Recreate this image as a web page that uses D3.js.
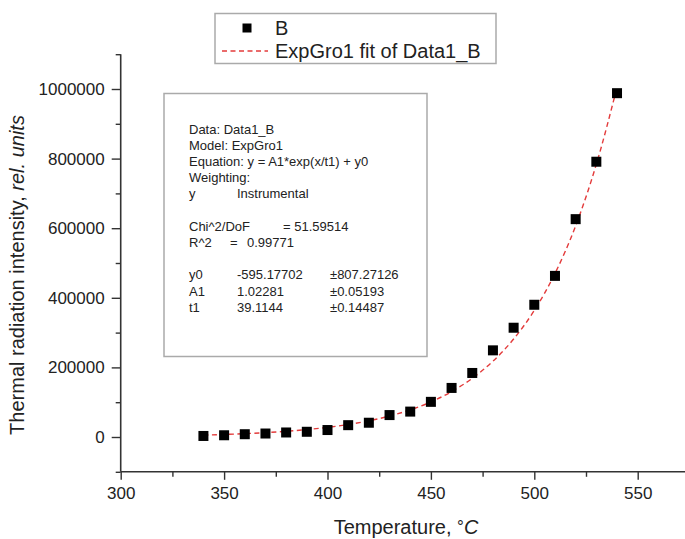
<!DOCTYPE html>
<html><head><meta charset="utf-8">
<script src="https://cdn.jsdelivr.net/npm/d3@7"></script>
<style>
body{margin:0;background:#fff;}
svg{display:block;font-family:"Liberation Sans",Arial,sans-serif;}
</style></head>
<body>
<svg id="c" width="685" height="539"></svg>
<script>
// ---- data ----
const temps = [340,350,360,370,380,390,400,410,420,430,440,450,460,470,480,490,500,510,520,530,540];
const intensity = [3000,5000,8000,10000,13000,15000,20000,34000,41000,63000,73000,101000,141000,184000,249000,314000,380000,463000,626000,791000,988000];
const fitValues = [5500,7300,9600,12500,16300,21300,27700,35900,46500,60200,78000,100800,130400,168600,217800,281500,363700,469800,606800,783700,1005000];
const xTicks = [300,350,400,450,500,550];
const xMinor = [325,375,425,475,525,575];
const yTicks = [0,200000,400000,600000,800000,1000000];
const yMinor = [-100000,100000,300000,500000,700000,900000,1100000];
const statsLines = ["Data: Data1_B","Model: ExpGro1","Equation: y = A1*exp(x/t1) + y0","Weighting:"];
const paramNames = ["y0","A1","t1"];
const paramValues = ["-595.17702","1.02281","39.1144"];
const paramErrors = ["\u00b1807.27126","\u00b10.05193","\u00b10.14487"];
const seriesName = "B";
const fitName = "ExpGro1 fit of Data1_B";

const svg = d3.select("#c");
const x = d3.scaleLinear().domain([300,575]).range([120.7,689.4]);
const y = d3.scaleLinear().domain([-100000,1100000]).range([471.8,54.2]);
const axisColor = "#333";

// axes
const gx = svg.append("g").attr("transform","translate(0,471.8)");
gx.call(d3.axisBottom(x).tickValues(xTicks).tickSize(8).tickPadding(7).tickFormat(d3.format("d")));
const gxm = svg.append("g").attr("transform","translate(0,471.8)");
gxm.call(d3.axisBottom(x).tickValues(xMinor).tickSize(5).tickFormat(""));
gxm.select(".domain").remove();
gx.select(".domain").attr("d","M120.7,0H685");

const gy = svg.append("g").attr("transform","translate(120.7,0)");
gy.call(d3.axisLeft(y).tickValues(yTicks).tickSize(9).tickPadding(7).tickFormat(d3.format("d")));
const gym = svg.append("g").attr("transform","translate(120.7,0)");
gym.call(d3.axisLeft(y).tickValues(yMinor).tickSize(5).tickFormat(""));
gym.select(".domain").remove();
gy.select(".domain").attr("d","M0,"+y(1100000)+"V"+y(-100000));

svg.selectAll(".domain").attr("stroke",axisColor).attr("stroke-width",1.6);
svg.selectAll(".tick line").attr("stroke",axisColor).attr("stroke-width",1.4);
svg.selectAll(".tick text").attr("fill","#222").style("font-size","17px").style("font-family","'Liberation Sans',Arial,sans-serif");

// axis titles
svg.append("text").attr("x",406).attr("y",534).attr("text-anchor","middle")
  .style("font-size","20px").attr("fill","#222")
  .call(t=>{t.append("tspan").text("Temperature, ");
            t.append("tspan").text("\u00b0").attr("dy",-2).style("font-size","17px");
            t.append("tspan").text("C").attr("dy",2).style("font-style","italic");});
svg.append("text").attr("transform","translate(24,275) rotate(-90)").attr("text-anchor","middle")
  .style("font-size","20px").attr("fill","#222")
  .call(t=>{t.append("tspan").text("Thermal radiation intensity, ");
            t.append("tspan").text("rel. units").style("font-style","italic");});

// stats box
svg.append("rect").attr("x",164).attr("y",93.5).attr("width",263).attr("height",263)
  .attr("fill","#fff").attr("stroke","#aaa").attr("stroke-width",1.5);
const sb = svg.append("g").attr("fill","#222").style("font-size","13px");
const line0 = 133.5, lh = 16.2;
statsLines.forEach((s,i)=>sb.append("text").attr("x",189).attr("y",line0+i*lh).text(s));
sb.append("text").attr("x",189).attr("y",line0+4*lh).text("y");
sb.append("text").attr("x",237).attr("y",line0+4*lh).text("Instrumental");
sb.append("text").attr("x",189).attr("y",line0+6*lh).text("Chi^2/DoF");
sb.append("text").attr("x",283).attr("y",line0+6*lh).text("= 51.59514");
sb.append("text").attr("x",189).attr("y",line0+7*lh).text("R^2");
sb.append("text").attr("x",230).attr("y",line0+7*lh).text("=");
sb.append("text").attr("x",247).attr("y",line0+7*lh).text("0.99771");
paramNames.forEach((p,i)=>{
  const yy = line0+(9+i)*lh;
  sb.append("text").attr("x",189).attr("y",yy).text(p);
  sb.append("text").attr("x",237).attr("y",yy).text(paramValues[i]);
  sb.append("text").attr("x",330).attr("y",yy).text(paramErrors[i]);
});

// fit line
const fitColor = "#e33b3b";
svg.append("path").datum(temps.map((t,i)=>[t,fitValues[i]]))
  .attr("fill","none").attr("stroke",fitColor).attr("stroke-width",1.4)
  .attr("stroke-dasharray","5,3.5")
  .attr("d",d3.line().x(d=>x(d[0])).y(d=>y(d[1])).curve(d3.curveMonotoneX));

// points
const sz = 10;
svg.append("g").selectAll("rect").data(temps).join("rect")
  .attr("x",(d)=>x(d)-sz/2).attr("y",(d,i)=>y(intensity[i])-sz/2)
  .attr("width",sz).attr("height",sz).attr("fill","#000");

// legend
svg.append("rect").attr("x",215).attr("y",13.5).attr("width",281).attr("height",50)
  .attr("fill","#fff").attr("stroke","#aaa").attr("stroke-width",1.5);
svg.append("rect").attr("x",247-4.5).attr("y",28-4.5).attr("width",9).attr("height",9).attr("fill","#000");
svg.append("line").attr("x1",222).attr("x2",268).attr("y1",51).attr("y2",51)
  .attr("stroke",fitColor).attr("stroke-width",1.4).attr("stroke-dasharray","5,3.5");
svg.append("text").attr("x",275).attr("y",35).style("font-size","20px").attr("fill","#222").text(seriesName);
svg.append("text").attr("x",275).attr("y",58).style("font-size","20px").attr("fill","#222").text(fitName);
</script>
</body></html>
